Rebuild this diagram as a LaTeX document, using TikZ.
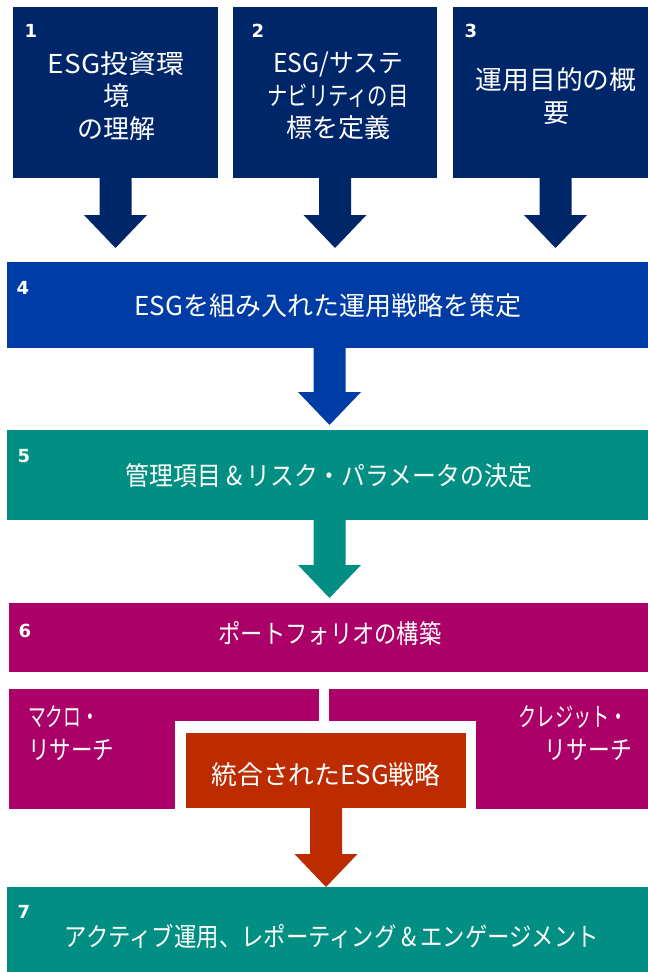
\documentclass[tikz,border=0pt]{standalone}
\usepackage{fontspec}
\setmainfont{Noto Sans CJK JP}
\newfontfamily\numfont{DejaVu Sans}
\usetikzlibrary{calc}
\definecolor{cnavy}{RGB}{0,38,106}
\definecolor{croyal}{RGB}{0,60,165}
\definecolor{cteal}{RGB}{0,143,130}
\definecolor{cmag}{RGB}{170,0,104}
\definecolor{corange}{RGB}{188,44,0}
\newcommand\fitw[2]{\resizebox{#1pt}{\height}{#2}}
% block arrow: colour, from node, to node, gap above target
\newcommand\blockarrow[4]{%
  \fill[#1] let \p1=(#2.south), \p2=(#3.north) in
    (\x1-16pt,\y1) -- (\x1+16pt,\y1) -- (\x1+16pt,\y2+#4+33pt) -- (\x1+31.5pt,\y2+#4+33pt)
    -- (\x1,\y2+#4) -- (\x1-31.5pt,\y2+#4+33pt) -- (\x1-16pt,\y2+#4+33pt) -- cycle;}
\tikzset{
  box/.style={inner sep=0pt, outer sep=0pt, draw=none},
  txt/.style={text=white, inner sep=0pt, align=center, font=\fontsize{26}{32.5}\selectfont},
  num/.style={text=white, inner sep=0pt, font=\numfont\bfseries\fontsize{18}{18}\selectfont}
}
\begin{document}
\begin{tikzpicture}[x=1pt,y=-1pt]
\useasboundingbox (0,0) rectangle (648,972);
\clip (0,0) rectangle (648,972);
% top boxes
\node[box, fill=cnavy, minimum width=205pt, minimum height=171pt] (b1) at (115.5,92.5) {};
\node[box, fill=cnavy, minimum width=204pt, minimum height=171pt] (b2) at (335,92.5) {};
\node[box, fill=cnavy, minimum width=205pt, minimum height=171pt] (b3) at (555.5,92.5) {};
\node[num] (n1) at (31,31) {1};
\node[num] (n2) at (258,31) {2};
\node[num] (n3) at (471,31) {3};
\node[txt] (t1) at (116,96) {\fitw{136}{ESG投資環}\\境\\\fitw{78}{の理解}};
\node[txt] (t2) at (338,96) {\fitw{130}{ESG/サステ}\\\fitw{141}{ナビリティの目}\\\fitw{104}{標を定義}};
\node[txt] (t3) at (556,96) {\fitw{161}{運用目的の概}\\要};
% box 4
\node[box, fill=croyal, minimum width=645pt, minimum height=86pt] (b4) at (329.5,305) {};
\node[num] (n4) at (23,288) {4};
\node[txt] (t4) at (328,306) {\fitw{387}{ESGを組み入れた運用戦略を策定}};
% box 5
\node[box, fill=cteal, minimum width=645pt, minimum height=90pt] (b5) at (329.5,475) {};
\node[num] (n5) at (24,456) {5};
\node[txt] (t5) at (329,476) {\fitw{406}{管理項目\hspace{6pt}\&\hspace{4pt}リスク・パラメータの決定}};
% box 6
\node[box, fill=cmag, minimum width=643pt, minimum height=69pt] (b6) at (330.5,637.5) {};
\node[num] (n6) at (25,631) {6};
\node[txt] (t6) at (330,633) {\fitw{223}{ポートフォリオの構築}};
% research boxes
\node[box, fill=cmag, minimum width=310pt, minimum height=120pt] (bm) at (164,748.5) {};
\node[box, fill=cmag, minimum width=322pt, minimum height=120pt] (bc) at (490,748.5) {};
\node[txt, anchor=west, align=left] (tm) at (28,733) {\fitw{71}{マクロ・}\\\fitw{86}{リサーチ}};
\node[txt, anchor=east, align=right] (tc) at (632,733) {\fitw{109}{クレジット・}\hspace*{4pt}\\\fitw{87}{リサーチ}};
% integrated strategy
\node[box, fill=white, minimum width=301pt, minimum height=88pt] (bw) at (325.5,765) {};
\node[box, fill=corange, minimum width=280pt, minimum height=75pt] (bo) at (326,770.5) {};
\node[txt] (to) at (326,775) {\fitw{229}{統合されたESG戦略}};
% box 7
\node[box, fill=cteal, minimum width=645pt, minimum height=85pt] (b7) at (329.5,929.5) {};
\node[num] (n7) at (24,912) {7};
\node[txt] (t7) at (332,936) {\fitw{534}{アクティブ運用、レポーティング\hspace{6pt}\&\hspace{4pt}エンゲージメント}};
% arrows
\blockarrow{cnavy}{b1}{b4}{14pt}
\blockarrow{cnavy}{b2}{b4}{14pt}
\blockarrow{cnavy}{b3}{b4}{14pt}
\blockarrow{croyal}{b4}{b5}{5pt}
\blockarrow{cteal}{b5}{b6}{5pt}
\blockarrow{corange}{bo}{b7}{0pt}
\end{tikzpicture}
\end{document}
